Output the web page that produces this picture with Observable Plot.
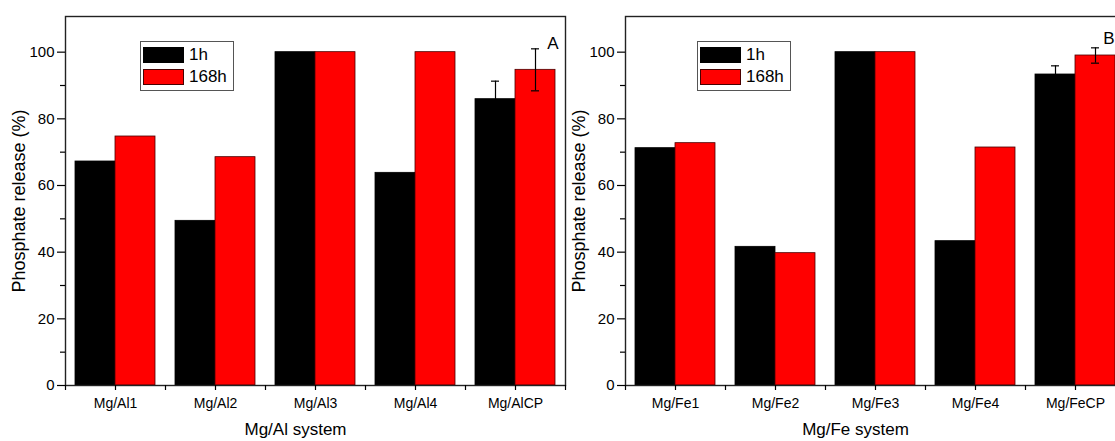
<!DOCTYPE html>
<html><head><meta charset="utf-8">
<script src="https://cdn.jsdelivr.net/npm/d3@7"></script>
<script src="https://cdn.jsdelivr.net/npm/@observablehq/plot@0.6"></script>
<style>
html,body{margin:0;padding:0;background:#fff;}
body{width:1115px;height:441px;overflow:hidden;position:relative;font-family:"Liberation Sans",Arial,sans-serif;}
.panel{position:absolute;top:0;width:570px;height:441px;}
.panel svg{max-width:none !important;}
.panel g[aria-label="y-axis tick label"]{font-size:15px !important;}
.panel g[aria-label="x-axis tick label"]{font-size:14px !important;}
.legend{position:absolute;border:1px solid #555;background:#fff;font-size:17px;padding:2px 6px 2px 2px;color:#000;}
.row{display:flex;align-items:center;height:22px;}
.sw{width:41px;height:16px;margin-right:5px;border:1px solid #222;box-sizing:border-box;}
</style></head><body>
<div id="A" class="panel" style="left:0px"></div>
<div id="B" class="panel" style="left:560px"></div>
<script>
const seriesNames = ["1h", "168h"];
const seriesColors = ["#000000", "#ff0000"];

const alCategories = ["Mg/Al1", "Mg/Al2", "Mg/Al3", "Mg/Al4", "Mg/AlCP"];
const al1h = [67.2, 49.4, 100, 63.8, 85.9];
const al168h = [74.7, 68.5, 100, 100, 94.7];
const alErr1h = [null, null, null, null, 5.4];
const alErr168h = [null, null, null, null, 6.3];

const feCategories = ["Mg/Fe1", "Mg/Fe2", "Mg/Fe3", "Mg/Fe4", "Mg/FeCP"];
const fe1h = [71.2, 41.6, 100, 43.3, 93.3];
const fe168h = [72.7, 39.7, 100, 71.4, 99.0];
const feErr1h = [null, null, null, null, 2.6];
const feErr168h = [null, null, null, null, 2.3];

const yTicks = [0, 20, 40, 60, 80, 100];
const yMinorTicks = [10, 30, 50, 70, 90];
const yLabel = "Phosphate release (%)";

function makePanel(el, cats, v1, v2, e1, e2, xLabel, letter, letterDx, letterDy, legendLeft) {
  const W = 570, H = 441, ML = 65, MR = 5, MT = 16, MB = 56;
  const step = (W - ML - MR) / cats.length;
  const bw = step * 0.8, half = bw / 2;
  const rows = cats.map((c, i) => ({cat: c, v1: v1[i], v2: v2[i], e1: e1[i], e2: e2[i]}));
  const err1 = rows.filter(d => d.e1 != null);
  const err2 = rows.filter(d => d.e2 != null);
  const capIn = (bw - 8) / 2;
  const chart = Plot.plot({
    width: W, height: H,
    marginLeft: ML, marginRight: MR, marginTop: MT, marginBottom: MB,
    style: {fontFamily: '"Liberation Sans", Arial, sans-serif', color: "#000", background: "transparent", maxWidth: "none"},
    x: {domain: cats, paddingInner: 0.2, paddingOuter: 0.1, label: null},
    y: {domain: [0, 110.7], label: null},
    marks: [
      Plot.barY(rows, {x: "cat", y: "v1", fill: seriesColors[0], stroke: "#000", strokeWidth: 0.8, insetRight: half}),
      Plot.barY(rows, {x: "cat", y: "v2", fill: seriesColors[1], stroke: "#4a0000", strokeWidth: 0.8, insetLeft: half}),
      Plot.ruleX(err1, {x: "cat", y1: d => d.v1 - d.e1, y2: d => d.v1 + d.e1, dx: -half / 2, stroke: "#000", strokeWidth: 1.2}),
      Plot.tickY(err1, {x: "cat", y: d => d.v1 + d.e1, dx: -half / 2, insetLeft: capIn, insetRight: capIn, stroke: "#000", strokeWidth: 1.2}),
      Plot.tickY(err1, {x: "cat", y: d => d.v1 - d.e1, dx: -half / 2, insetLeft: capIn, insetRight: capIn, stroke: "#000", strokeWidth: 1.2}),
      Plot.ruleX(err2, {x: "cat", y1: d => d.v2 - d.e2, y2: d => d.v2 + d.e2, dx: half / 2, stroke: "#000", strokeWidth: 1.2}),
      Plot.tickY(err2, {x: "cat", y: d => d.v2 + d.e2, dx: half / 2, insetLeft: capIn, insetRight: capIn, stroke: "#000", strokeWidth: 1.2}),
      Plot.tickY(err2, {x: "cat", y: d => d.v2 - d.e2, dx: half / 2, insetLeft: capIn, insetRight: capIn, stroke: "#000", strokeWidth: 1.2}),
      Plot.frame({stroke: "#222", strokeWidth: 1.4}),
      Plot.axisY({ticks: yTicks, tickSize: 8, tickPadding: 3, fontSize: 15, label: null, strokeWidth: 1.2}),
      Plot.axisY({ticks: yMinorTicks, tickSize: 5, text: null, label: null, strokeWidth: 1.2}),
      Plot.axisX({ticks: cats, tickSize: 5, tickPadding: 8, fontSize: 14, label: null, strokeWidth: 1.2}),
      Plot.axisX({ticks: cats, tickSize: 5, text: null, label: null, dx: -step / 2, strokeWidth: 1.2}),
      Plot.axisX({ticks: cats.slice(-1), tickSize: 5, text: null, label: null, dx: step / 2, strokeWidth: 1.2}),
      Plot.text([xLabel], {frameAnchor: "bottom", dy: 49, dx: -20, fontSize: 17, textAnchor: "middle", fill: "#000"}),
      Plot.text([yLabel], {frameAnchor: "left", dx: -46, rotate: -90, fontSize: 18, textAnchor: "middle", fill: "#000"}),
      Plot.text([letter], {frameAnchor: "top-right", dx: letterDx, dy: letterDy, fontSize: 17, textAnchor: "end", fill: "#000"})
    ]
  });
  chart.style.maxWidth = "none";
  const host = document.getElementById(el);
  host.appendChild(chart);
  const lg = document.createElement("div");
  lg.className = "legend";
  lg.style.left = legendLeft + "px";
  lg.style.top = "41px";
  seriesNames.forEach((n, i) => {
    const r = document.createElement("div");
    r.className = "row";
    const sw = document.createElement("div");
    sw.className = "sw";
    sw.style.background = seriesColors[i];
    sw.style.borderColor = i === 0 ? "#000" : "#4a0000";
    const t = document.createElement("span");
    t.textContent = n;
    r.appendChild(sw); r.appendChild(t);
    lg.appendChild(r);
  });
  host.appendChild(lg);
}

makePanel("A", alCategories, al1h, al168h, alErr1h, alErr168h, "Mg/Al system", "A", -7, 20, 140);
makePanel("B", feCategories, fe1h, fe168h, feErr1h, feErr168h, "Mg/Fe system", "B", -11, 15, 137);
</script>
</body></html>
